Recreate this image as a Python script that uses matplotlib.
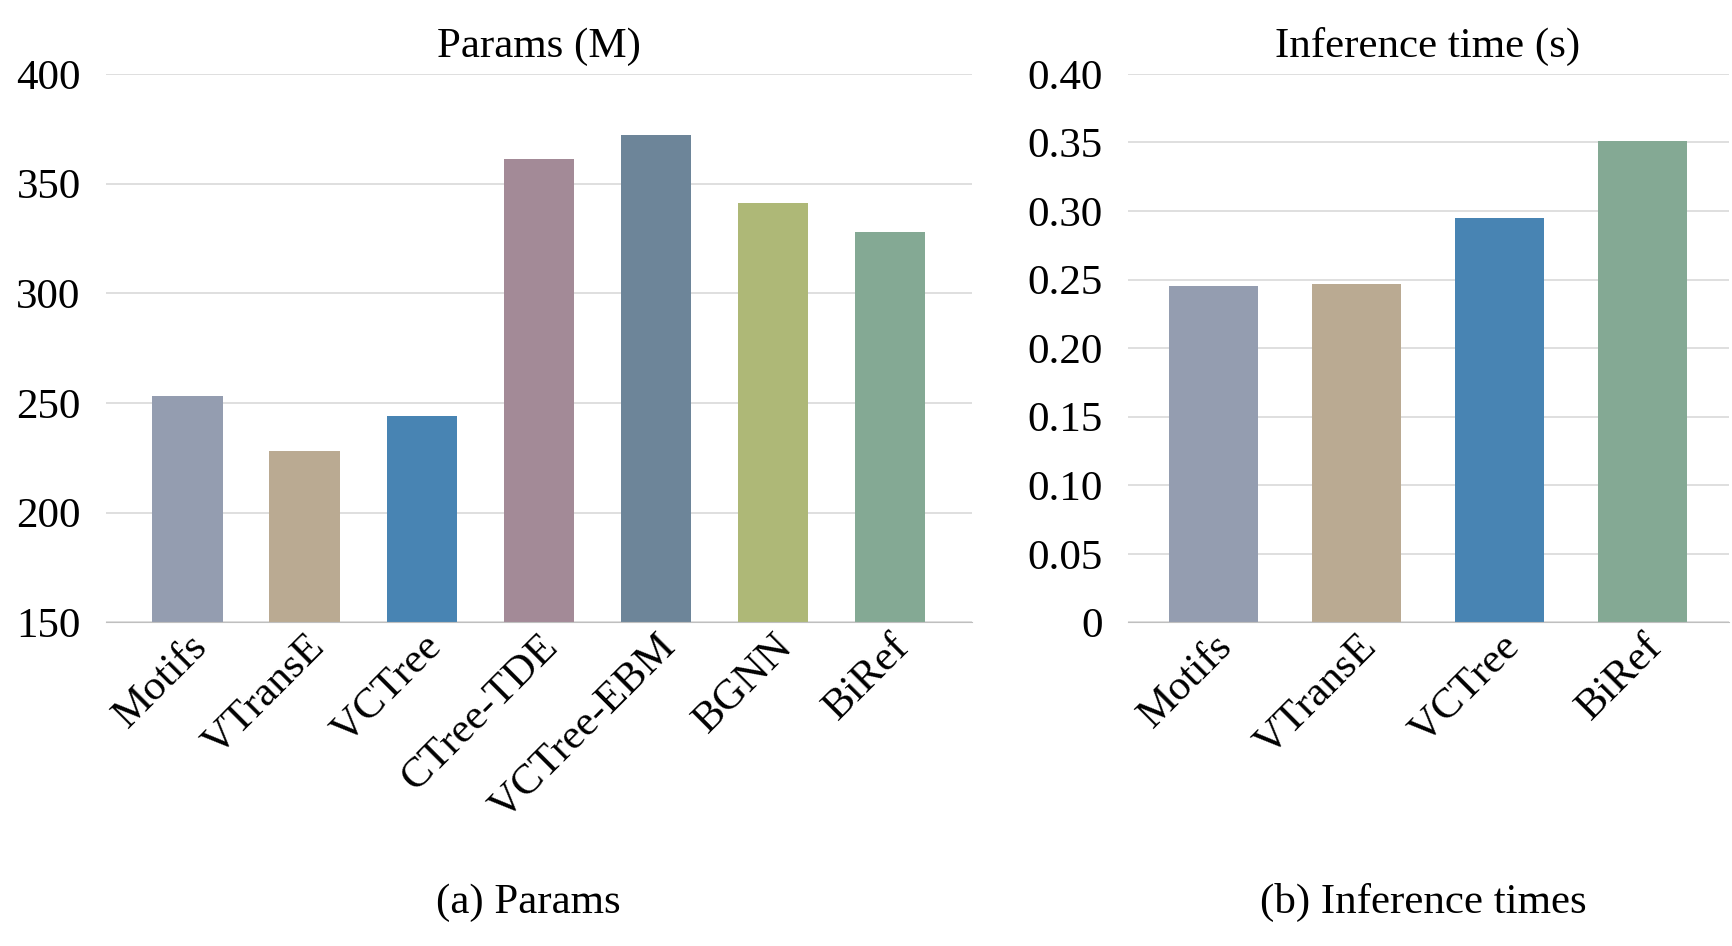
import matplotlib as mpl
mpl.use('Agg')
import matplotlib.pyplot as plt

params_models = ['Motifs', 'VTransE', 'VCTree', 'CTree-TDE', 'VCTree-EBM', 'BGNN', 'BiRef']
params_values = [253, 228, 244, 361, 372, 341, 328]
params_colors = ['#949DB0', '#BAAA92', '#4884B3', '#A38A97', '#6D8599', '#AEB877', '#84A994']

time_models = ['Motifs', 'VTransE', 'VCTree', 'BiRef']
time_values = [0.245, 0.247, 0.295, 0.351]
time_colors = ['#949DB0', '#BAAA92', '#4884B3', '#84A994']

params_ticks = [150, 200, 250, 300, 350, 400]
time_ticks = [0, 0.05, 0.10, 0.15, 0.20, 0.25, 0.30, 0.35, 0.40]
time_ticklabels = ['0', '0.05', '0.10', '0.15', '0.20', '0.25', '0.30', '0.35', '0.40']

plt.rcParams['font.family'] = ['Liberation Serif', 'DejaVu Serif']
FS = 31

fig = plt.figure(figsize=(17.32, 9.46), dpi=100)
ax1 = fig.add_axes([0.061, 0.342, 0.500, 0.580])
ax2 = fig.add_axes([0.651, 0.342, 0.347, 0.580])


def style(ax):
    for s in ['top', 'right', 'left']:
        ax.spines[s].set_visible(False)
    ax.spines['bottom'].set_color('#BFBFBF')
    ax.grid(axis='y', color='#D9D9D9', linewidth=1.2)
    ax.set_axisbelow(True)
    ax.tick_params(axis='both', length=0, labelsize=FS)
    ax.tick_params(axis='y', pad=18)
    plt.setp(ax.get_xticklabels(), rotation=45, ha='right', rotation_mode='anchor')


ax1.bar(range(len(params_models)), params_values, width=0.6, color=params_colors)
ax1.set_ylim(150, 400)
ax1.set_yticks(params_ticks)
ax1.set_xlim(-0.7, len(params_models) - 0.3)
ax1.set_xticks(range(len(params_models)))
ax1.set_xticklabels(params_models)
ax1.set_title('Params (M)', fontsize=FS, pad=12)
style(ax1)

ax2.bar(range(len(time_models)), time_values, width=0.62, color=time_colors)
ax2.set_ylim(0, 0.40)
ax2.set_yticks(time_ticks)
ax2.set_yticklabels(time_ticklabels)
ax2.set_xlim(-0.6, len(time_models) - 0.4)
ax2.set_xticks(range(len(time_models)))
ax2.set_xticklabels(time_models)
ax2.set_title('Inference time (s)', fontsize=FS, pad=12)
style(ax2)

fig.text(0.305, 0.035, '(a) Params', fontsize=FS, ha='center')
fig.text(0.822, 0.035, '(b) Inference times', fontsize=FS, ha='center')

fig.savefig('out.png', dpi=100)
